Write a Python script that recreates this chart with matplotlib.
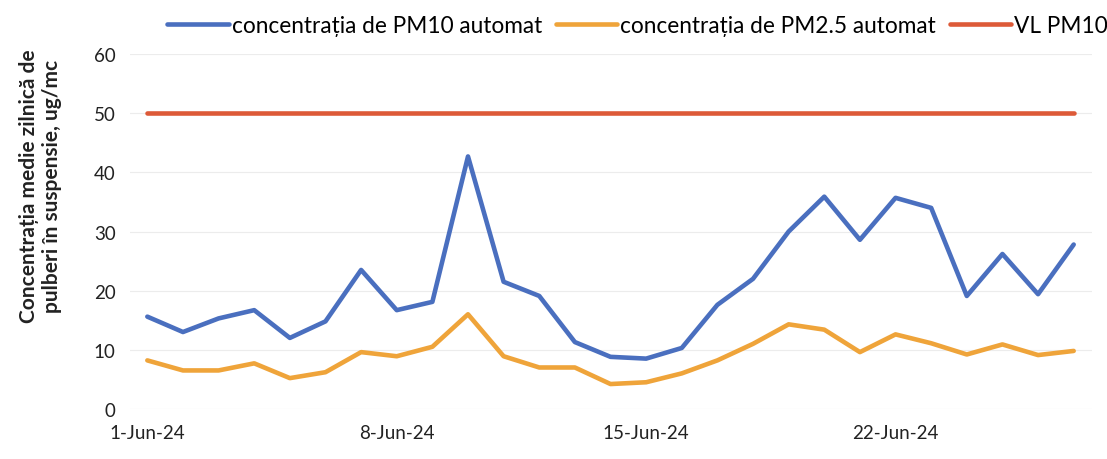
import matplotlib.pyplot as plt
import pandas as pd

days = pd.date_range('2024-06-01', periods=27)
day_labels = [f"{d.day}-Jun-24" for d in days]

pm10 = [15.6, 13.0, 15.3, 16.7, 12.0, 14.8, 23.5, 16.7, 18.1, 42.7, 21.5, 19.1, 11.3, 8.8,
        8.5, 10.3, 17.6, 22.0, 30.0, 35.9, 28.6, 35.7, 34.0, 19.1, 26.2, 19.4, 27.8]
pm25 = [8.2, 6.5, 6.5, 7.7, 5.2, 6.2, 9.6, 8.9, 10.5, 16.0, 8.9, 7.0, 7.0, 4.2,
        4.5, 6.0, 8.2, 11.0, 14.3, 13.4, 9.6, 12.6, 11.1, 9.2, 10.9, 9.1, 9.8]
vl_pm10 = [50] * 27

names = ['concentrația de PM10 automat', 'concentrația de PM2.5 automat', 'VL PM10']
colors = ['#4a6fbf', '#efa43a', '#dd5a38']

plt.rcParams['font.family'] = ['Lato', 'DejaVu Sans']

fig = plt.figure(figsize=(11.07, 4.6), dpi=100)
ax = fig.add_axes([0.117, 0.109, 0.869, 0.771])

x = list(range(len(days)))
for vals, name, col in zip([pm10, pm25, vl_pm10], names, colors):
    ax.plot(x, vals, color=col, lw=3.3, label=name, solid_capstyle='round')

ax.set_xlim(-0.5, len(days) - 0.5)
ax.set_ylim(0, 60)
ax.set_yticks(range(0, 61, 10))
ticks = x[::7]
ax.set_xticks(ticks)
ax.set_xticklabels([day_labels[i] for i in ticks])
ax.tick_params(axis='both', length=0, labelsize=13.5, colors='#222222')
ax.tick_params(axis='x', pad=11)
ax.tick_params(axis='y', pad=10)
ax.grid(axis='y', color='#ececec', lw=0.8)
ax.set_axisbelow(True)
for s in ax.spines.values():
    s.set_visible(False)

ax.set_ylabel('Concentrația medie zilnică de\npulberi în suspensie, ug/mc',
              fontsize=15, fontweight='bold', color='#222222')
ax.yaxis.set_label_coords(-0.07, 0.63)

fig.legend(loc='upper center', bbox_to_anchor=(0.576, 1.01), ncol=3, frameon=False,
           fontsize=16.3, handlelength=2.7, handletextpad=0.15, columnspacing=0.6)

plt.savefig('out.png', dpi=100)
